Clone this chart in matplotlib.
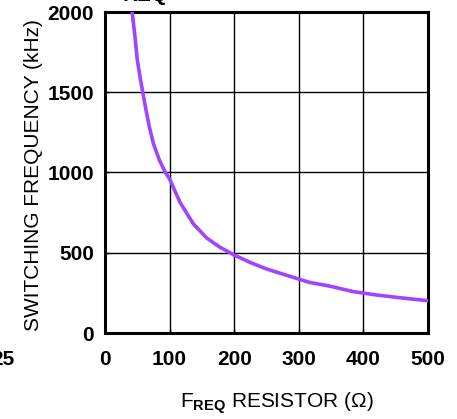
import matplotlib
matplotlib.use("Agg")
import matplotlib.pyplot as plt

plt.rcParams["font.family"] = ["Liberation Sans", "DejaVu Sans"]
plt.rcParams["mathtext.fontset"] = "custom"
plt.rcParams["mathtext.rm"] = "Liberation Sans"
plt.rcParams["mathtext.bf"] = "Liberation Sans:bold"

# values
resistor = [42, 46.4, 50, 54.2, 58.3, 63.5, 68.6, 74.8, 84.1, 92.9, 100, 116, 136.7,
            157.4, 178, 200, 224.5, 250, 276, 299, 317, 348, 384, 420, 456, 500]
freq_khz = [2000, 1846, 1701, 1597, 1503, 1389, 1285, 1182, 1078, 1005, 960, 815, 680,
            592, 534, 486, 440, 399, 366, 337, 315, 292, 258, 237, 220, 201]
x_ticks = [0, 100, 200, 300, 400, 500]
y_ticks = [0, 500, 1000, 1500, 2000]

fig = plt.figure(figsize=(4.57, 4.19), dpi=100)
ax = fig.add_axes([105 / 457, 86 / 419, 323 / 457, 321 / 419])

ax.plot(resistor, freq_khz, color="#a044ff", linewidth=2.6, solid_joinstyle="round", zorder=3)

ax.set_xlim(0, 500)
ax.set_ylim(0, 2000)
ax.set_xticks(x_ticks)
ax.set_yticks(y_ticks)
ax.grid(True, color="black", linewidth=1.0)
ax.tick_params(direction="in", length=3, width=1, pad=8, labelsize=15)
ax.tick_params(axis="x", pad=12)
for lbl in ax.get_xticklabels() + ax.get_yticklabels():
    lbl.set_fontweight("bold")
for sp in ax.spines.values():
    sp.set_linewidth(2.2)

fig.text(34 / 457, (419 - 175) / 419, "SWITCHING FREQUENCY (kHz)",
         rotation=90, ha="center", va="center", fontsize=15)
fig.text(277 / 457, (419 - 403) / 419, r"F$_{\mathbf{REQ}}$ RESISTOR (Ω)",
         ha="center", va="center", fontsize=15)

# clipped fragments from neighbouring content
fig.text(145 / 457, (419 - 5) / 419, "REQ", ha="center", va="bottom", fontsize=15, fontweight="bold")
fig.text(14 / 457, (419 - 359) / 419, "25", ha="right", va="center", fontsize=15, fontweight="bold")

fig.savefig("out.png", dpi=100)
